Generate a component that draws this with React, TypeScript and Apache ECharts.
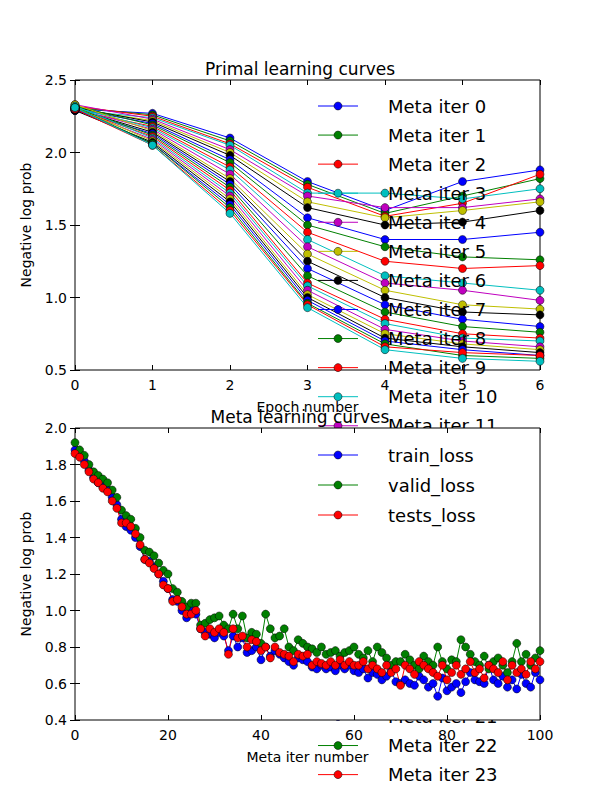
import React, { useEffect, useRef } from "react";
import * as echarts from "echarts";

const COLORS = ["#0000ff", "#008000", "#ff0000", "#00bfbf", "#bf00bf", "#bfbf00", "#000000"];

const epochs = [0, 1, 2, 3, 4, 5, 6];
const primalCurves: number[][] = [
  [2.30, 2.27, 2.10, 1.80, 1.60, 1.80, 1.88],
  [2.31, 2.26, 2.08, 1.78, 1.58, 1.70, 1.82],
  [2.32, 2.25, 2.06, 1.76, 1.56, 1.65, 1.85],
  [2.29, 2.24, 2.05, 1.72, 1.72, 1.68, 1.75],
  [2.33, 2.23, 2.02, 1.70, 1.62, 1.62, 1.68],
  [2.30, 2.22, 2.00, 1.66, 1.55, 1.60, 1.66],
  [2.31, 2.21, 1.98, 1.62, 1.50, 1.52, 1.60],
  [2.30, 2.20, 1.95, 1.55, 1.40, 1.40, 1.45],
  [2.32, 2.19, 1.93, 1.50, 1.35, 1.28, 1.26],
  [2.29, 2.18, 1.90, 1.45, 1.25, 1.20, 1.22],
  [2.31, 2.17, 1.88, 1.40, 1.15, 1.10, 1.05],
  [2.30, 2.16, 1.85, 1.35, 1.10, 1.05, 0.98],
  [2.33, 2.15, 1.82, 1.30, 1.05, 0.95, 0.92],
  [2.30, 2.14, 1.80, 1.25, 1.00, 0.90, 0.88],
  [2.29, 2.13, 1.78, 1.20, 0.95, 0.85, 0.80],
  [2.31, 2.12, 1.76, 1.15, 0.90, 0.80, 0.76],
  [2.30, 2.11, 1.74, 1.10, 0.85, 0.75, 0.72],
  [2.32, 2.10, 1.72, 1.08, 0.82, 0.72, 0.70],
  [2.30, 2.09, 1.70, 1.05, 0.78, 0.70, 0.66],
  [2.31, 2.08, 1.68, 1.02, 0.75, 0.68, 0.64],
  [2.29, 2.07, 1.66, 1.00, 0.72, 0.66, 0.62],
  [2.30, 2.06, 1.64, 0.98, 0.70, 0.64, 0.60],
  [2.31, 2.06, 1.62, 0.96, 0.68, 0.60, 0.58],
  [2.30, 2.05, 1.60, 0.95, 0.66, 0.62, 0.60],
  [2.31, 2.05, 1.58, 0.93, 0.64, 0.58, 0.56],
];

const trainLoss = [
  1.88, 1.85, 1.82, 1.77, 1.73, 1.70, 1.68, 1.66, 1.62, 1.58, 1.50,
  1.46, 1.44, 1.40, 1.35, 1.28, 1.27, 1.24, 1.20, 1.16, 1.12,
  1.06, 1.05, 1.00, 0.96, 1.00, 0.98, 0.90, 0.88, 0.87, 0.85,
  0.88, 0.86, 0.78, 0.86, 0.80, 0.85, 0.77, 0.78, 0.80, 0.73,
  0.80, 0.75, 0.78, 0.76, 0.74, 0.72, 0.70, 0.74, 0.73, 0.72,
  0.69, 0.68, 0.70, 0.68, 0.69, 0.67, 0.70, 0.68, 0.70, 0.67,
  0.66, 0.68, 0.63, 0.66, 0.65, 0.62, 0.64, 0.67, 0.61, 0.60,
  0.62, 0.60, 0.59, 0.64, 0.62, 0.58, 0.60, 0.53, 0.63, 0.56,
  0.58, 0.60, 0.55, 0.61, 0.66, 0.62, 0.61, 0.60, 0.70, 0.62,
  0.60, 0.64, 0.58, 0.62, 0.57, 0.65, 0.60, 0.58, 0.66, 0.62,
];
const validLoss = [
  1.92, 1.88, 1.85, 1.80, 1.76, 1.74, 1.72, 1.70, 1.66, 1.62, 1.55,
  1.52, 1.50, 1.45, 1.40, 1.33, 1.32, 1.30, 1.26, 1.22, 1.20,
  1.12, 1.10, 1.05, 1.02, 1.04, 1.04, 0.92, 0.93, 0.95, 0.96,
  0.97, 0.92, 0.90, 0.98, 0.90, 0.97, 0.85, 0.88, 0.87, 0.82,
  0.98, 0.90, 0.85, 0.86, 0.90, 0.80, 0.78, 0.84, 0.82, 0.80,
  0.79, 0.77, 0.80, 0.76, 0.77, 0.78, 0.75, 0.77, 0.78, 0.80,
  0.76, 0.74, 0.78, 0.72, 0.80, 0.77, 0.74, 0.70, 0.72, 0.72,
  0.76, 0.73, 0.70, 0.68, 0.75, 0.72, 0.70, 0.80, 0.72, 0.68,
  0.73, 0.72, 0.84, 0.80, 0.76, 0.72, 0.70, 0.75, 0.68, 0.72,
  0.74, 0.70, 0.66, 0.72, 0.82, 0.72, 0.76, 0.70, 0.74, 0.78,
];
const testsLoss = [
  1.86, 1.84, 1.80, 1.76, 1.72, 1.70, 1.67, 1.65, 1.60, 1.56, 1.48,
  1.48, 1.46, 1.42, 1.36, 1.28, 1.26, 1.23, 1.20, 1.14, 1.12,
  1.05, 1.06, 1.02, 0.98, 0.98, 1.00, 0.90, 0.86, 0.90, 0.88,
  0.90, 0.88, 0.76, 0.90, 0.85, 0.86, 0.80, 0.84, 0.83, 0.78,
  0.80, 0.74, 0.80, 0.77, 0.76, 0.75, 0.72, 0.76, 0.75, 0.76,
  0.70, 0.72, 0.71, 0.70, 0.72, 0.70, 0.73, 0.70, 0.72, 0.70,
  0.70, 0.72, 0.68, 0.70, 0.68, 0.66, 0.70, 0.66, 0.68, 0.59,
  0.70, 0.68, 0.65, 0.72, 0.70, 0.68, 0.66, 0.64, 0.70, 0.62,
  0.66, 0.70, 0.65, 0.68, 0.72, 0.66, 0.68, 0.63, 0.70, 0.68,
  0.66, 0.72, 0.62, 0.70, 0.66, 0.68, 0.65, 0.72, 0.68, 0.72,
];
const metaSeries = [
  { name: "train_loss", data: trainLoss },
  { name: "valid_loss", data: validLoss },
  { name: "tests_loss", data: testsLoss },
];

const FONT = "DejaVu Sans";

function legendItems(names: string[], y0: number, dy: number) {
  const out: any[] = [];
  names.forEach((n, i) => {
    const y = y0 + dy * i;
    const c = COLORS[i % COLORS.length];
    out.push({ type: "line", shape: { x1: 318, y1: y, x2: 358, y2: y }, style: { stroke: c, lineWidth: 1 }, z: 100 });
    out.push({ type: "circle", shape: { cx: 338, cy: y, r: 4 }, style: { fill: c, stroke: "#000", lineWidth: 0.5 }, z: 100 });
    out.push({ type: "text", x: 388, y, style: { text: n, fill: "#000", font: `18px '${FONT}'`, textVerticalAlign: "middle" }, z: 100 });
  });
  return out;
}

function axes(top: number, height: number, xmin: number, xmax: number, xint: number, ymin: number, ymax: number, yint: number, xname: string) {
  const tickIn = { show: true, inside: true, length: 5, lineStyle: { color: "#000" } };
  const lab = { color: "#000", fontFamily: FONT, fontSize: 14 };
  const grid = { left: 75, right: 60, top, height, show: true, borderColor: "#000", borderWidth: 1, backgroundColor: "#fff" };
  const xAxis = [
    { type: "value", min: xmin, max: xmax, interval: xint, axisLine: { show: false }, axisTick: tickIn, splitLine: { show: false }, axisLabel: { ...lab, margin: 8 }, name: xname, nameLocation: "middle", nameGap: 30, nameTextStyle: { color: "#000", fontFamily: FONT, fontSize: 14 } },
    { type: "value", position: "top", min: xmin, max: xmax, interval: xint, axisLine: { show: false }, axisTick: tickIn, splitLine: { show: false }, axisLabel: { show: false } },
  ];
  const yAxis = [
    { type: "value", min: ymin, max: ymax, interval: yint, axisLine: { show: false }, axisTick: tickIn, splitLine: { show: false }, axisLabel: { ...lab, formatter: (v: number) => v.toFixed(1) }, name: "Negative log prob", nameLocation: "middle", nameGap: 42, nameTextStyle: { color: "#000", fontFamily: FONT, fontSize: 14 } },
    { type: "value", position: "right", min: ymin, max: ymax, interval: yint, axisLine: { show: false }, axisTick: tickIn, splitLine: { show: false }, axisLabel: { show: false } },
  ];
  return { grid, xAxis, yAxis };
}

function lineSeries(name: string, data: number[][], i: number) {
  const c = COLORS[i % COLORS.length];
  return {
    name, type: "line", data, symbol: "circle", symbolSize: 8,
    lineStyle: { color: c, width: 1 },
    itemStyle: { color: c, borderColor: "#000", borderWidth: 0.5 },
  };
}

const App: React.FC = () => {
  const topRef = useRef<HTMLDivElement>(null);
  const botRef = useRef<HTMLDivElement>(null);

  useEffect(() => {
    const top = echarts.init(topRef.current, null, { renderer: "svg" });
    const a = axes(80, 290, 0, 6, 1, 0.5, 2.5, 0.5, "Epoch number");
    top.setOption({
      animation: false,
      title: { text: "Primal learning curves", left: "center", top: 55, textStyle: { fontFamily: FONT, fontSize: 17, fontWeight: "normal", color: "#000" } },
      grid: a.grid, xAxis: a.xAxis, yAxis: a.yAxis,
      series: primalCurves.map((c, i) => lineSeries(`Meta iter ${i}`, c.map((v, k) => [epochs[k], v]), i)),
      graphic: legendItems(primalCurves.map((_, i) => `Meta iter ${i}`), 106, 29.07),
    });

    const bot = echarts.init(botRef.current, null, { renderer: "svg" });
    const b = axes(428, 292, 0, 100, 20, 0.4, 2.0, 0.2, "Meta iter number");
    bot.setOption({
      animation: false,
      title: { text: "Meta learning curves", left: "center", top: 403, textStyle: { fontFamily: FONT, fontSize: 17, fontWeight: "normal", color: "#000" } },
      grid: b.grid, xAxis: b.xAxis, yAxis: b.yAxis,
      series: metaSeries.map((s, i) => lineSeries(s.name, s.data.map((v, k) => [k, v]), i)),
      graphic: legendItems(metaSeries.map((s) => s.name), 455, 30),
    });
    return () => {
      top.dispose();
      bot.dispose();
    };
  }, []);

  return (
    <div style={{ position: "relative", width: 600, height: 800, margin: -8, overflow: "hidden", background: "#fff" }}>
      <div ref={topRef} style={{ position: "absolute", left: 0, top: 0, width: 600, height: 800 }} />
      <div ref={botRef} style={{ position: "absolute", left: 0, top: 0, width: 600, height: 800 }} />
    </div>
  );
};

export default App;
